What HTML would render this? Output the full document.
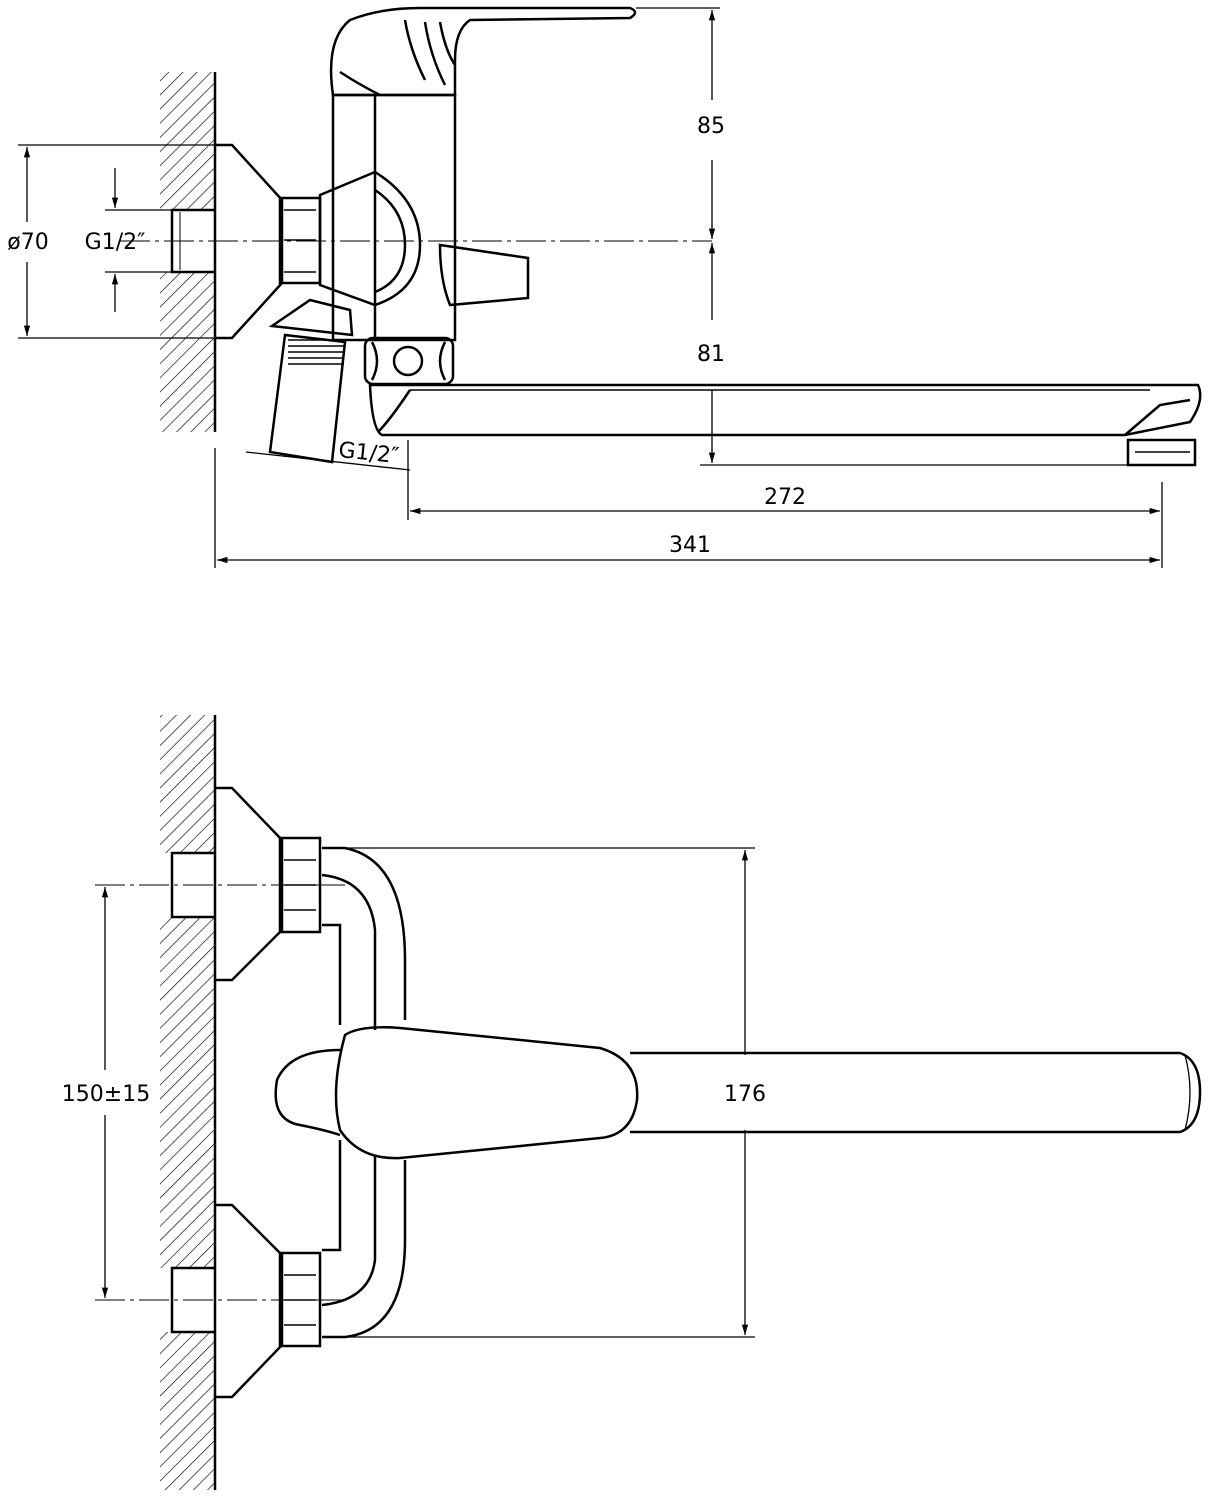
<!DOCTYPE html>
<html><head><meta charset="utf-8"><style>
html,body{margin:0;padding:0;background:#fff}
svg{display:block}
text{font-family:"DejaVu Sans","Liberation Sans",sans-serif;font-size:22px;fill:#000}
</style></head><body>
<svg width="1211" height="1500" viewBox="0 0 1211 1500" xmlns="http://www.w3.org/2000/svg">
<defs>
<pattern id="h" width="10" height="10" patternUnits="userSpaceOnUse" patternTransform="rotate(45)">
<line x1="0" y1="0" x2="0" y2="10" stroke="#000" stroke-width="1.3"/>
</pattern>
<marker id="a" viewBox="0 0 10 10" refX="10" refY="5" markerWidth="12" markerHeight="8" orient="auto-start-reverse"><path d="M0,2 L10,5 L0,8" fill="#000"/></marker>
</defs>
<g fill="none" stroke="#000" stroke-width="2.5">
<rect x="160" y="72" width="55" height="138" fill="url(#h)" stroke="none"/>
<rect x="160" y="272" width="55" height="160" fill="url(#h)" stroke="none"/>
<line x1="215" y1="72" x2="215" y2="432"/>
<path d="M215,210 H172 V272 H215"/>
<line x1="180" y1="212" x2="180" y2="270" stroke-width="1"/>
<path d="M215,145 H232 L282,200 V283 L232,338 H215"/>
<rect x="280" y="198" width="40" height="85"/>
<path d="M284,210 H316 M284,240 H316 M284,272 H316" stroke-width="1.5"/>
<path d="M333,95 V340 H455 V95 Z"/>
<line x1="375" y1="95" x2="375" y2="340"/>
<path d="M320,195 L375,172 Q420,200 420,245 Q420,290 375,305 L320,285 Z"/>
<path d="M375,190 Q405,210 405,245 Q405,280 375,292"/>
<path d="M333,95 Q325,40 350,20 Q380,8 420,8 L630,8 Q640,12 630,18 L470,20 Q455,30 455,60 L455,95 L345,95 Z"/>
<path d="M405,20 Q410,50 425,80 M425,22 Q430,55 445,85 M440,22 Q445,50 455,65"/>
<path d="M340,72 Q360,85 380,95"/>
<path d="M440,245 L528,258 L528,298 L450,305 Q440,280 440,245 Z"/>
<path d="M272,326 L310,300 L350,310 L352,335 Z"/>
<path d="M285,335 L345,342 L332,462 L270,452 Z"/>
<path d="M288,340 H344 M288,346 H344 M288,352 H344 M288,358 H344 M288,364 H344" stroke-width="1.5"/>
<rect x="365" y="338" width="88" height="46" rx="8"/>
<circle cx="408" cy="361" r="14"/>
<path d="M372,342 Q382,361 372,380 M445,342 Q435,361 445,380"/>
<path d="M370,385 Q372,430 382,435 L1125,435 L1190,422 Q1205,400 1198,385 L455,385 Z"/>
<path d="M410,390 Q390,420 378,432"/>
<line x1="410" y1="390" x2="1150" y2="390" stroke-width="1.5"/>
<path d="M1125,435 L1160,405 L1190,400"/>
<rect x="1128" y="440" width="67" height="25"/>
<line x1="1135" y1="452" x2="1190" y2="452" stroke-width="1.5"/>
<line x1="120" y1="241" x2="712" y2="241" stroke-width="1" stroke-dasharray="30,5,4,5"/>
<g stroke-width="1.3">
<line x1="636" y1="8" x2="720" y2="8"/>
<line x1="712" y1="10" x2="712" y2="100" marker-start="url(#a)"/>
<line x1="712" y1="160" x2="712" y2="239" marker-end="url(#a)"/>
<line x1="712" y1="243" x2="712" y2="320" marker-start="url(#a)"/>
<line x1="712" y1="390" x2="712" y2="463" marker-end="url(#a)"/>
<line x1="700" y1="465" x2="1128" y2="465"/>
<line x1="408" y1="440" x2="408" y2="520"/>
<line x1="1162" y1="482" x2="1162" y2="568"/>
<line x1="410" y1="511" x2="1160" y2="511" marker-start="url(#a)" marker-end="url(#a)"/>
<line x1="215" y1="448" x2="215" y2="568"/>
<line x1="217" y1="560" x2="1160" y2="560" marker-start="url(#a)" marker-end="url(#a)"/>
<line x1="18" y1="145" x2="215" y2="145"/>
<line x1="18" y1="338" x2="215" y2="338"/>
<line x1="27" y1="147" x2="27" y2="222" marker-start="url(#a)"/>
<line x1="27" y1="262" x2="27" y2="336" marker-end="url(#a)"/>
<line x1="105" y1="210" x2="172" y2="210"/>
<line x1="105" y1="272" x2="172" y2="272"/>
<line x1="115" y1="168" x2="115" y2="208" marker-end="url(#a)"/>
<line x1="115" y1="312" x2="115" y2="274" marker-end="url(#a)"/>
<line x1="246" y1="452" x2="410" y2="470"/>
</g>
<rect x="160" y="715" width="55" height="138" fill="url(#h)" stroke="none"/>
<rect x="160" y="917" width="55" height="351" fill="url(#h)" stroke="none"/>
<rect x="160" y="1332" width="55" height="158" fill="url(#h)" stroke="none"/>
<line x1="215" y1="715" x2="215" y2="1490"/>
<path d="M215,853 H172 V917 H215 M215,1268 H172 V1332 H215"/>
<path d="M215,788 H232 L282,840 V930 L232,980 H215"/>
<path d="M215,1205 H232 L282,1255 V1345 L232,1397 H215"/>
<rect x="280" y="838" width="40" height="94"/>
<path d="M284,860 H316 M284,885 H316 M284,910 H316" stroke-width="1.5"/>
<rect x="280" y="1253" width="40" height="93"/>
<path d="M284,1275 H316 M284,1300 H316 M284,1325 H316" stroke-width="1.5"/>
<path d="M322,848 H345 Q405,860 405,960 L405,1020 M405,1160 L405,1240 Q405,1330 345,1337 H322"/>
<path d="M322,875 Q370,880 375,930 L375,1030 M375,1155 L375,1260 Q370,1300 322,1305"/>
<path d="M322,925 H340 V1025 M340,1140 V1250 H322"/>
<path d="M340,1050 Q290,1050 277,1080 Q270,1120 300,1125 Q325,1130 340,1135"/>
<path d="M345,1035 Q360,1025 400,1028 L600,1048 Q640,1060 637,1100 Q632,1135 600,1138 L400,1158 Q360,1160 340,1130 Q330,1090 345,1035 Z"/>
<path d="M630,1053 H1180 Q1200,1060 1200,1092 Q1200,1125 1180,1132 H630"/>
<path d="M1185,1055 Q1195,1092 1185,1130" stroke-width="1.3"/>
<line x1="95" y1="885" x2="350" y2="885" stroke-width="1" stroke-dasharray="30,5,4,5"/>
<line x1="95" y1="1300" x2="350" y2="1300" stroke-width="1" stroke-dasharray="30,5,4,5"/>
<g stroke-width="1.3">
<line x1="345" y1="848" x2="755" y2="848"/>
<line x1="345" y1="1337" x2="755" y2="1337"/>
<line x1="745" y1="850" x2="745" y2="1055" marker-start="url(#a)"/>
<line x1="745" y1="1130" x2="745" y2="1335" marker-end="url(#a)"/>
<line x1="105" y1="887" x2="105" y2="1070" marker-start="url(#a)"/>
<line x1="105" y1="1115" x2="105" y2="1298" marker-end="url(#a)"/>
</g>
</g>
<text x="711" y="133" text-anchor="middle">85</text>
<text x="711" y="361" text-anchor="middle">81</text>
<text x="785" y="504" text-anchor="middle">272</text>
<text x="690" y="552" text-anchor="middle">341</text>
<text x="28" y="249" text-anchor="middle">ø70</text>
<text x="115" y="249" text-anchor="middle">G1/2″</text>
<text x="368" y="460" text-anchor="middle" transform="rotate(6 368 460)">G1/2″</text>
<text x="745" y="1101" text-anchor="middle">176</text>
<text x="106" y="1101" text-anchor="middle">150±15</text>
</svg>
</body></html>
